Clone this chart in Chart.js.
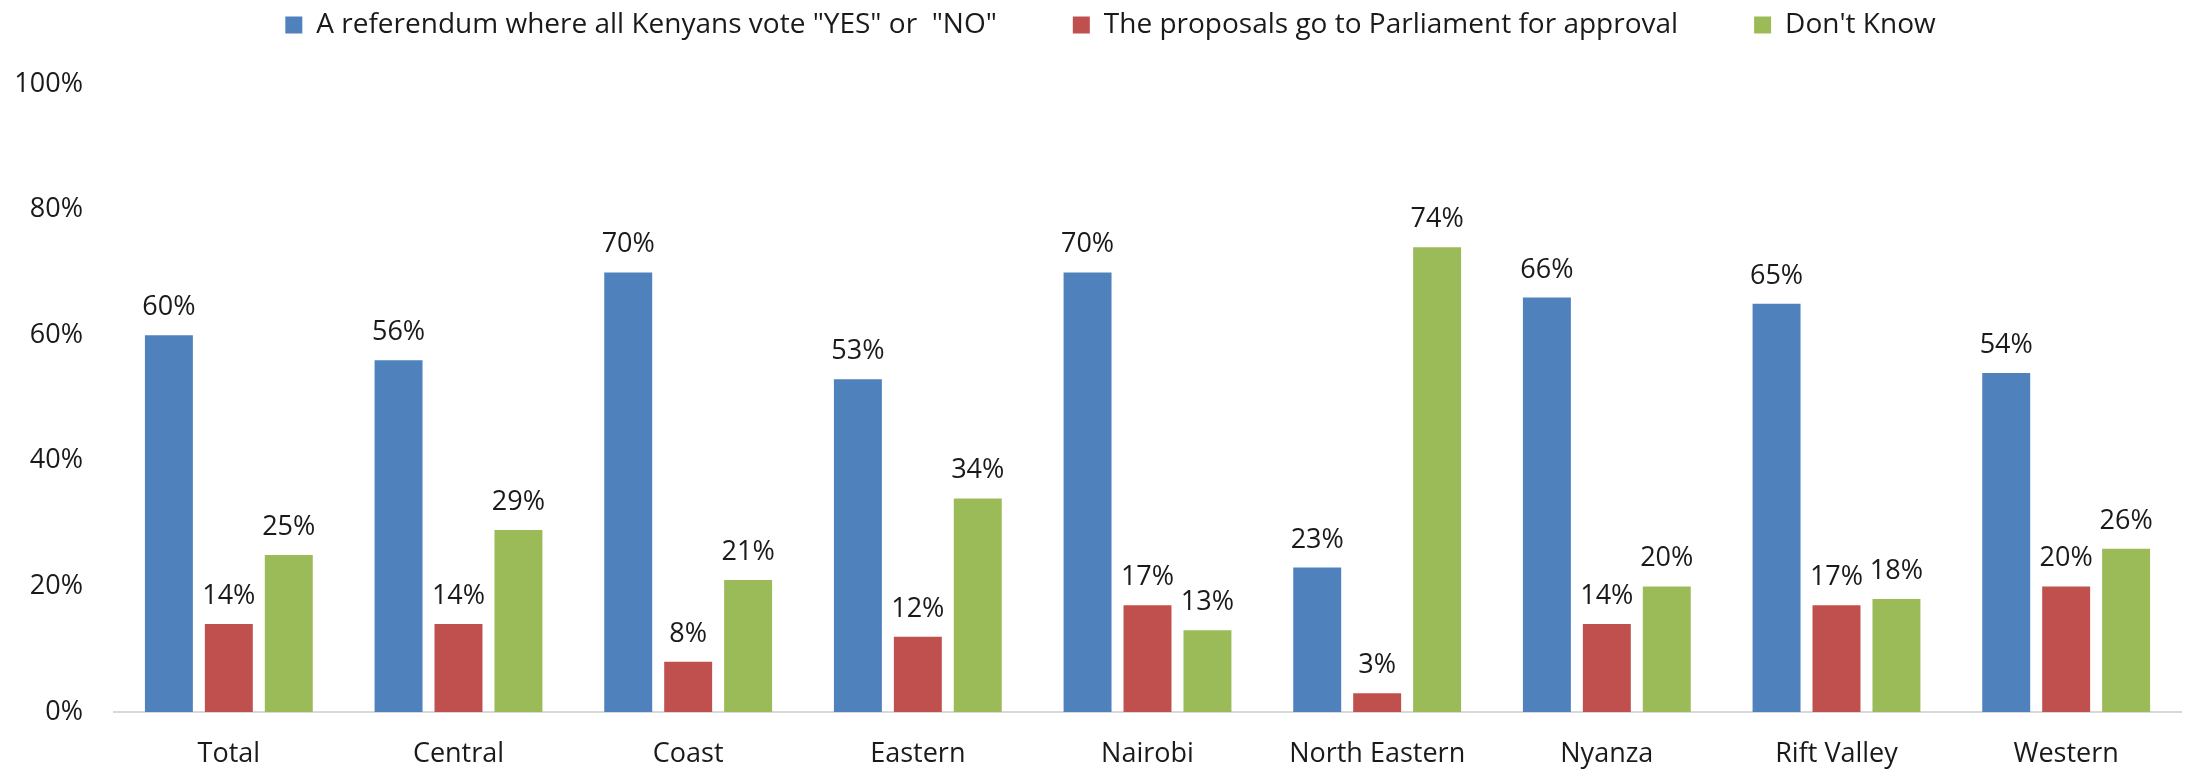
<!DOCTYPE html>
<html>
<head>
<meta charset="utf-8">
<title>Referendum or Parliament</title>
<script src="https://cdn.jsdelivr.net/npm/chart.js@4.4.1/dist/chart.umd.min.js"></script>
<style>
  html, body { margin: 0; padding: 0; background: #fff; }
  #wrap { width: 2190px; height: 769px; }
</style>
</head>
<body>
<div id="wrap"><canvas id="regionChart"></canvas></div>
<script>
const regions = ['Total', 'Central', 'Coast', 'Eastern', 'Nairobi', 'North Eastern', 'Nyanza', 'Rift Valley', 'Western'];
const referendum = [60, 56, 70, 53, 70, 23, 66, 65, 54];
const parliament = [14, 14, 8, 12, 17, 3, 14, 17, 20];
const dontKnow = [25, 29, 21, 34, 13, 74, 20, 18, 26];
const yTicks = [0, 20, 40, 60, 80, 100];

const FONT = "'Open Sans', 'Noto Sans', sans-serif";
const LEGEND_GAP = 76;      // horizontal space between legend entries
const LEGEND_HEIGHT = 84;   // room reserved above the plot
const LEGEND_ROW_Y = 11;    // how far down the legend row sits
const LEGEND_NUDGE = 20;    // legend row sits a bit right of centre

// value labels above each bar
const barLabels = {
  id: 'barLabels',
  afterDatasetsDraw(chart) {
    const ctx = chart.ctx;
    ctx.save();
    ctx.font = `27px ${FONT}`;
    ctx.fillStyle = '#1a1a1a';
    ctx.textAlign = 'center';
    ctx.textBaseline = 'alphabetic';
    chart.data.datasets.forEach((ds, i) => {
      const meta = chart.getDatasetMeta(i);
      meta.data.forEach((bar, j) => {
        ctx.fillText(ds.data[j] + '%', bar.x, bar.y - 20);
      });
    });
    ctx.restore();
  }
};

// the legend padding doubles as the gap between entries, so fix its
// height and pull the row back up to the top edge
const legendRow = {
  id: 'legendRow',
  beforeLayout(chart) {
    const lg = chart.legend;
    if (lg && !lg._fixedFit) {
      const fit = lg.fit.bind(lg);
      lg.fit = function () {
        fit();
        this.height = LEGEND_HEIGHT;
      };
      lg._fixedFit = true;
    }
  },
  afterLayout(chart) {
    const lg = chart.legend;
    if (!lg) return;
    const shift = LEGEND_GAP - LEGEND_ROW_Y;
    lg.top -= shift;
    lg.height += shift;
    lg.left += LEGEND_NUDGE;
    lg.right += LEGEND_NUDGE;
  }
};

const ctx = document.getElementById('regionChart').getContext('2d');
new Chart(ctx, {
  type: 'bar',
  data: {
    labels: regions,
    datasets: [
      { label: 'A referendum where all Kenyans vote "YES" or  "NO"', data: referendum, backgroundColor: '#4F81BD' },
      { label: 'The proposals go to Parliament for approval', data: parliament, backgroundColor: '#C0504D' },
      { label: "Don't Know", data: dontKnow, backgroundColor: '#9BBB59' }
    ]
  },
  options: {
    responsive: true,
    maintainAspectRatio: false,
    animation: false,
    categoryPercentage: 0.783,
    barPercentage: 0.8,
    layout: { padding: { left: 0, right: 9, top: 0, bottom: 0 } },
    plugins: {
      tooltip: { enabled: false },
      legend: {
        position: 'top',
        labels: {
          font: { family: FONT, size: 28 },
          color: '#1a1a1a',
          boxWidth: 17,
          boxHeight: 17,
          padding: LEGEND_GAP
        }
      }
    },
    scales: {
      x: {
        grid: { display: false, drawTicks: false },
        border: { color: '#D9D9D9', width: 2 },
        ticks: { font: { family: FONT, size: 27 }, color: '#1a1a1a', padding: 26, maxRotation: 0 },
        afterFit(scale) { scale.height = 57; }
      },
      y: {
        min: 0,
        max: 100,
        afterBuildTicks(scale) { scale.ticks = yTicks.map(v => ({ value: v })); },
        grid: { display: false, drawTicks: false },
        border: { display: false },
        ticks: {
          font: { family: FONT, size: 27 },
          color: '#1a1a1a',
          padding: 31,
          callback: v => v + '%'
        },
        afterFit(scale) { scale.width = 114; }
      }
    }
  },
  plugins: [barLabels, legendRow]
});
</script>
</body>
</html>
